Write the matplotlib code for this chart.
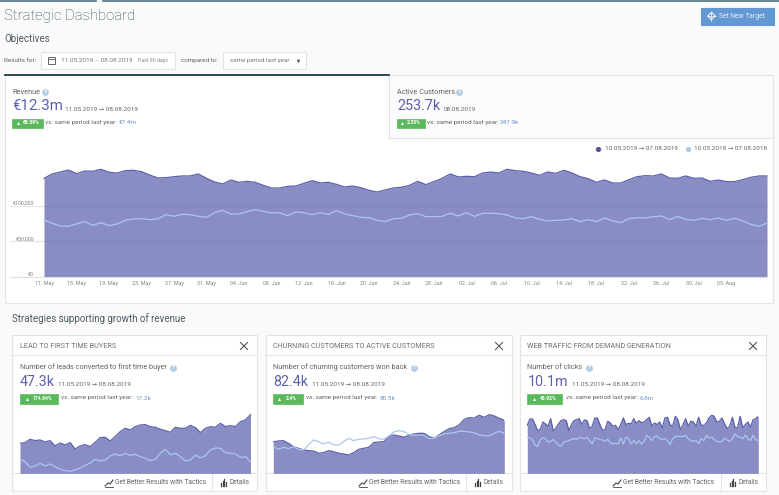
import numpy as np
import matplotlib.pyplot as plt
from matplotlib.patches import Rectangle

plt.rcParams['font.family'] = ['Roboto', 'DejaVu Sans']

# main chart, thousands of euro per day
revenue = [138.1,144.2,146.9,149.7,144.6,148.3,147.9,150.7,146.5,145.5,148.8,149.3,147.4,142.8,138.6,139,140.4,141.4,141.4,144.2,
           138.1,133,130.2,135.8,132.5,133.9,132.5,128.3,124.6,124.6,126.9,127.4,131.1,134.9,131.6,132.5,129.7,126,127.4,125.1,
           121.4,119,121.8,124.6,125.6,128.3,133.9,129.3,133.5,138.1,144.2,140,140.9,140.4,145.5,146.9,145.5,150.7,148.8,147.9,
           145.5,142.3,146.9,145.1,149.3,145.5,140.4,137.6,132.5,135.8,131.6,131.6,136.2,140.4,141.8,141.4,144.2,138.6,138.1,141.4,
           138.1,138.6,133.9,135.8,133.5,133.5,136.2,139.5,141.4,141.4]
revenue_prev = [80,75.3,71.6,71.1,74.4,77.7,72.5,76.3,72.1,74.4,79.5,81.4,81.8,80.4,81.4,87.4,85.1,87.9,87.4,85.1,
                83.7,90.2,93.5,88.4,88.4,91.6,94.4,92.1,89.7,90.2,86,91.1,90.2,87.4,90.2,87.9,93,88.4,86,83.7,
                83.2,79.5,77.7,81.8,82.3,87,88.8,84.6,84.6,85.1,89.3,85.6,90.2,85.1,89.3,89.3,88.8,87,82.8,81.8,
                84.6,80.9,78.6,79.5,80,81.8,77.7,80.4,77.7,82.8,78.6,76.3,81.8,83.2,82.8,84.6,85.6,80.4,85.1,80.9,
                79.5,82.3,80.4,82.8,79.5,82.3,78.6,73.9,71.1,75.8]
x_labels = ['11. May','15. May','19. May','23. May','27. May','31. May','04. Jun','08. Jun','12. Jun','16. Jun','20. Jun','24. Jun',
            '28. Jun','02. Jul','06. Jul','10. Jul','14. Jul','18. Jul','22. Jul','26. Jul','30. Jul','03. Aug']
y_ticks = [0, 50, 100]
y_labels = ['€0', '€50,000', '€100,000']

# small charts
leads = [90,92,102,98,100,94,98,82,91,85,92,73,82,86,80,93,107,108,97,110,125,135,130,140,145,146,140,138,132,128,123,138,135,135,144,137,122,135,140,138,150,140,143,140,155,160,176]
leads_prev = [42,35,18,22,30,22,28,20,12,8,6,10,16,24,31,42,37,40,52,58,52,60,54,57,50,45,38,42,60,72,56,60,50,37,40,55,46,53,70,76,75,62,60,58,48,50,35]
churn = [94,97,98,90,80,75,70,68,67,60,62,68,65,60,58,55,62,72,75,78,92,94,95,110,115,112,108,114,118,120,120,110,105,115,125,134,137,145,162,167,166,174,168,176,172,165,159]
churn_prev = [80,72,78,74,80,72,70,85,100,95,88,94,86,84,95,105,98,102,103,105,110,104,102,112,124,128,125,116,114,115,114,104,105,113,118,120,122,126,126,124,122,115,113,112,120,126,120]
clicks = [144,163,163,146,128,132,154,148,141,164,126,136,148,158,161,158,128,146,158,161,164,146,160,158,134,141,166,166,146,128,132,156,151,141,144,131,146,166,146,150,148,164,150,158,152,154,161,
          168,141,151,146,154,136,166,168,146,141,171,161,131,146,164,141,156,154,141,168,144,144,151,166,174,171,154,156,166,148,134,141,168,138,136,171,136,146,154,138,161,164,171]
clicks_prev = [108,106,101,84,81,101,106,104,94,96,101,94,84,81,94,96,98,102,104,102,108,106,104,108,98,88,106,104,101,100,96,102,92,88,90,88,106,88,108,104,88,98,88,98,88,96,114,
               108,98,110,112,104,102,104,98,86,104,110,111,110,111,114,104,98,96,98,90,104,98,114,106,108,101,96,94,96,106,100,96,104,118,111,108,104,114,104,98,114,101,98]

W, H = 779, 495
PAGE = '#fafafa'
BORDER = '#e4e4e4'
FILL = '#5257a8'
LINE = '#5b60ad'
PREV = '#a9c8ee'
GREY = '#5f6468'
LINK = '#6f96c4'
GREEN = '#5cb85c'
KPI = '#5c62b0'

fig = plt.figure(figsize=(W / 100, H / 100), dpi=100, facecolor=PAGE)
bg = fig.add_axes([0, 0, 1, 1])
bg.set_xlim(0, W)
bg.set_ylim(H, 0)
bg.axis('off')


def px_axes(x0, y0, x1, y1):
    return fig.add_axes([x0 / W, 1 - y1 / H, (x1 - x0) / W, (y1 - y0) / H], zorder=2)


def txt(x, y, s, size=5.0, color=GREY, **kw):
    kw.setdefault('va', 'center')
    bg.text(x, y, s, fontsize=size, color=color, **kw)


def box(x0, y0, x1, y1, fc='white', ec=BORDER, lw=0.8, z=1):
    bg.add_patch(Rectangle((x0, y0), x1 - x0, y1 - y0, fc=fc, ec=ec, lw=lw, zorder=z))


def help_icon(x, y):
    bg.scatter([x], [y], s=24, color='#b4cbe3', zorder=3, linewidths=0)
    txt(x, y, '?', 4.2, 'white', ha='center', fontweight='bold', zorder=4)


def badge(x0, x1, y0, y1, s):
    box(x0, y0, x1, y1, fc=GREEN, ec=GREEN, lw=0.5, z=3)
    w = x1 - x0
    bg.scatter([x0 + 0.18 * w], [(y0 + y1) / 2], s=5, marker='^', color='white', zorder=4, linewidths=0)
    txt(x0 + 0.6 * w, (y0 + y1) / 2, s, 3.6, 'white', ha='center', fontweight='bold', zorder=4)


# top strip
bg.plot([0, 96], [0.5, 0.5], color='#4f7181', lw=1.2)
bg.plot([103, 779], [0.5, 0.5], color='#4f7181', lw=1.2)

txt(4, 16, 'Strategic Dashboard', 10.7, '#2c4a5b', fontweight='light')
txt(4, 39, 'Objectives', 7.0, '#4c5a62')
txt(4, 60.5, 'Results for:', 4.6)
box(41.5, 52, 175.5, 69)
bg.add_patch(Rectangle((48.5, 57), 7, 7, fc='none', ec='#666666', lw=0.7, zorder=3))
bg.plot([48.5, 55.5], [59, 59], color='#666666', lw=0.7, zorder=3)
txt(61, 60.5, '11.05.2019 – 08.08.2019', 4.55, '#74797d', zorder=3)
txt(138, 60.5, 'Past 90 days', 3.8, '#85898c', zorder=3)
txt(181, 60.5, 'compared to:', 4.5)
box(223.5, 52, 306, 69)
txt(230, 60.5, 'same period last year', 4.5, '#74797d', zorder=3)
bg.scatter([298.5], [60.8], s=7, marker='v', color='#555555', zorder=3, linewidths=0)

# set new target button
box(701, 8, 774, 25, fc='#6498d2', ec='#6498d2', z=1)
bg.scatter([711.5], [16], s=14, marker='D', facecolor='none', edgecolor='white', linewidths=0.7, zorder=3)
bg.plot([707, 716], [16, 16], color='white', lw=0.5, zorder=3)
bg.plot([711.5, 711.5], [11.5, 20.5], color='white', lw=0.5, zorder=3)
txt(719, 16, 'Set New Target', 4.9, '#e6eef8', zorder=3)

# main panel
box(5, 75, 773, 303)
box(389, 75, 773, 138, fc='#fbfbfb')
bg.plot([5, 389], [75, 75], color='#1f3a4a', lw=1.3, zorder=3)
txt(12.5, 92, 'Revenue', 5.3)
help_icon(45, 92)
txt(12.5, 106, '€12.3m', 10.8, KPI)
txt(65, 109.5, '11.05.2019 → 08.08.2019', 4.55, GREY)
badge(12.5, 43.5, 118.5, 127.5, '65.39%')
txt(45, 122.5, 'vs. same period last year:', 4.6)
txt(119, 122.5, '€7.4m', 4.6, LINK)

txt(397, 92, 'Active Customers', 5.3)
help_icon(459.5, 92)
txt(397, 106.5, '253.7k', 10.4, KPI)
txt(443.5, 109.5, '08.08.2019', 4.55, GREY)
badge(397, 425, 118.5, 127.5, '2.33%')
txt(427, 122.5, 'vs. same period last year:', 4.6)
txt(500, 122.5, '247.9k', 4.6, LINK)

bg.scatter([598.5], [148.5], s=14, color='#4f54a6', zorder=3, linewidths=0)
txt(605, 148.5, '10.05.2019 → 07.08.2019', 4.6, GREY, zorder=3)
bg.scatter([688], [148.5], s=14, color=PREV, zorder=3, linewidths=0)
txt(694, 148.5, '10.05.2018 → 07.08.2018', 4.6, GREY, zorder=3)

day = 723 / 89
ax = px_axes(10, 155, 767.5, 277.3)
ax.patch.set_alpha(0)
days = np.arange(len(revenue))
ax.set_xlim(-34 / day, 89 + 0.5 / day)
ax.set_ylim(0, 122.3 / 0.7167)
ax.set_yticks(y_ticks)
ax.set_yticklabels(y_labels)
ax.set_xticks(np.arange(len(x_labels)) * 4)
ax.set_xticklabels(x_labels)
ax.grid(axis='y', color='#e6e6e6', lw=0.8, zorder=0)
ax.set_axisbelow(True)
ax.tick_params(axis='both', length=0, labelsize=3.9, labelcolor='#808080')
ax.tick_params(axis='y', pad=-17.3)
ax.tick_params(axis='x', pad=3)
for lab in ax.get_yticklabels():
    lab.set_va('bottom')
    lab.set_ha('right')
for name in ['top', 'left', 'right']:
    ax.spines[name].set_visible(False)
ax.spines['bottom'].set_color('#e0e0e0')
ax.fill_between(days, revenue, 0, color=FILL, alpha=0.68, lw=0, zorder=2)
ax.plot(days, revenue, color=LINE, lw=0.9, zorder=3)
ax.plot(days, revenue_prev, color=PREV, lw=0.9, zorder=3)

txt(12, 319, 'Strategies supporting growth of revenue', 7.0, '#4c5a62')

cards = [
    dict(left=12, right=257, chart=(20, 250.5), head='LEAD TO FIRST TIME BUYERS', metric='Number of leads converted to first time buyer',
         q=173, kpi='47.3k', date_x=58.5, pct='174.84%', bx=58, vs_x=61, ref='17.2k', ref_x=135, foot=115, sep=212, cur=leads, prev=leads_prev),
    dict(left=266, right=512, chart=(273.3, 504.3), head='CHURNING CUSTOMERS TO ACTIVE CUSTOMERS', metric='Number of churning customers won back',
         q=414, kpi='82.4k', date_x=312, pct='2.4%', bx=303, vs_x=306, ref='80.5k', ref_x=379.5, foot=369, sep=466, cur=churn, prev=churn_prev),
    dict(left=520, right=766, chart=(527.3, 758.3), head='WEB TRAFFIC FROM DEMAND GENERATION', metric='Number of clicks',
         q=589, kpi='10.1m', date_x=572, pct='48.92%', bx=562.5, vs_x=566, ref='6.8m', ref_x=639.5, foot=623, sep=721, cur=clicks, prev=clicks_prev),
]

for c in cards:
    l, r = c['left'], c['right']
    x0, x1 = c['chart']
    box(l, 335, r, 491)
    bg.plot([l, r], [355, 355], color=BORDER, lw=0.8, zorder=2)
    bg.plot([l, r], [473.3, 473.3], color=BORDER, lw=0.8, zorder=2)
    bg.plot([c['sep'], c['sep']], [473.3, 491], color=BORDER, lw=0.8, zorder=2)
    txt(x0, 346, c['head'], 5.25, '#6b7074', zorder=3)
    bg.plot([r - 16.5, r - 9.5], [342.5, 349.5], color='#555555', lw=0.8, zorder=3)
    bg.plot([r - 16.5, r - 9.5], [349.5, 342.5], color='#555555', lw=0.8, zorder=3)
    txt(x0, 367.5, c['metric'], 5.2, zorder=3)
    help_icon(c['q'], 367.5)
    txt(x0, 382, c['kpi'], 10.3, KPI, zorder=3)
    txt(c['date_x'], 384.5, '11.05.2019 → 08.08.2019', 4.55, zorder=3)
    badge(x0, c['bx'], 394, 404, c['pct'])
    txt(c['vs_x'], 398, 'vs. same period last year:', 4.6, zorder=3)
    txt(c['ref_x'], 398, c['ref'], 4.6, LINK, zorder=3)

    a = px_axes(x0, 405, x1, 473.3)
    a.axis('off')
    n = np.arange(len(c['cur']))
    a.set_xlim(0, len(c['cur']) - 1)
    a.set_ylim(0, 68.3 * 3)
    a.fill_between(n, c['cur'], 0, color=FILL, alpha=0.68, lw=0)
    a.plot(n, c['cur'], color=LINE, lw=0.9)
    a.plot(n, c['prev'], color=PREV, lw=0.9)

    f = c['foot']
    bg.plot([f - 10, f - 7, f - 5, f - 2], [486, 483, 484, 480], color='#444444', lw=0.8, zorder=3)
    bg.plot([f - 10, f - 2], [486.5, 486.5], color='#444444', lw=0.6, zorder=3)
    txt(f, 482, 'Get Better Results with Tactics', 4.9, zorder=3)
    s = c['sep']
    for i, h in enumerate([3, 5, 7, 4]):
        bg.plot([s + 9 + i * 1.7] * 2, [485.5, 485.5 - h], color='#444444', lw=0.9, zorder=3)
    txt(s + 18, 482, 'Details', 4.7, zorder=3)

fig.savefig('out.png', dpi=100, facecolor=fig.get_facecolor())
